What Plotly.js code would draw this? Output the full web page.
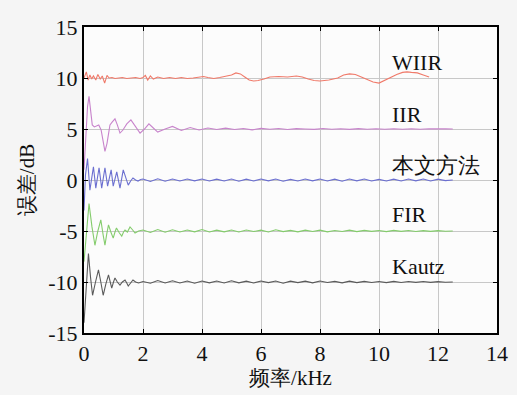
<!DOCTYPE html>
<html><head><meta charset="utf-8">
<script src="https://cdn.plot.ly/plotly-3.0.1.min.js"></script>
<style>html,body{margin:0;padding:0;background:#f5f5f5;}#chart{width:517px;height:395px;}</style>
</head><body><div id="chart"></div>
<script>
// ---- data ----
const seriesNames = ["WIIR", "IIR", "本文方法", "FIR", "Kautz"];

const wiirF = [0,0.08,0.14,0.2,0.26,0.32,0.4,0.47,0.55,0.62,0.7,0.78,0.85,0.95,1.05,1.15,1.3,1.45,1.6,1.75,1.9,2.0,2.08,2.16,2.25,2.35,2.5,2.7,2.9,3.1,3.3,3.5,3.7,3.9,4.05,4.2,4.4,4.6,4.8,5.0,5.15,5.3,5.45,5.6,5.75,5.9,6.1,6.3,6.6,6.9,7.2,7.4,7.6,7.8,8.0,8.3,8.6,8.8,9.0,9.2,9.4,9.6,9.8,10.0,10.2,10.4,10.6,10.8,10.95,11.1,11.3,11.5,11.7];
const wiirV = [10.0,10.6,9.8,10.3,9.9,10.2,9.8,10.35,9.9,10.2,9.5,10.25,10.0,10.05,9.95,10.0,10.05,9.95,10.0,10.05,9.95,10.05,10.25,9.8,10.2,9.9,10.1,9.95,10.05,9.95,10.05,9.95,10.0,10.05,10.15,10.05,9.95,10.05,10.15,10.3,10.5,10.4,10.1,9.8,9.7,9.75,9.9,10.1,10.15,10.1,10.2,10.1,9.9,9.75,9.7,9.8,10.0,10.3,10.4,10.35,10.1,9.85,9.6,9.5,9.8,10.1,10.35,10.55,10.6,10.55,10.5,10.3,10.1];

const iirF = [0,0.06,0.12,0.17,0.22,0.28,0.35,0.42,0.5,0.58,0.65,0.71,0.78,0.88,0.96,1.05,1.13,1.22,1.32,1.45,1.59,1.72,1.9,2.05,2.2,2.35,2.5,2.75,3.0,3.3,3.6,3.9,4.2,4.5,4.8,5.1,5.4,5.7,6.0,6.3,6.6,6.9,7.2,7.5,7.8,8.1,8.4,8.7,9.0,9.3,9.6,9.9,10.2,10.5,10.8,11.1,11.4,11.7,12.0,12.25,12.5];
const iirV = [1.0,4.0,7.2,8.2,6.8,5.4,5.2,5.3,5.4,4.9,3.8,2.8,3.6,5.4,5.7,6.0,5.4,4.6,4.9,5.5,5.9,5.3,4.6,5.0,5.5,5.1,4.7,5.0,5.25,4.85,5.15,4.9,5.1,4.95,5.08,4.95,5.05,4.92,5.06,4.97,5.05,4.95,5.04,5.0,4.96,5.05,4.97,5.03,4.96,5.04,4.98,5.02,4.97,5.03,4.98,5.02,4.97,5.03,4.99,5.01,5.0];

const tailF = [2.25,2.5,2.75,3,3.25,3.5,3.75,4,4.25,4.5,4.75,5,5.25,5.5,5.75,6,6.25,6.5,6.75,7,7.25,7.5,7.75,8,8.25,8.5,8.75,9,9.25,9.5,9.75,10,10.25,10.5,10.75,11,11.25,11.5,11.75,12,12.25,12.5];

const oursF = [0,0.05,0.12,0.2,0.32,0.4,0.51,0.6,0.71,0.8,0.92,0.99,1.11,1.22,1.33,1.42,1.5,1.58,1.66,1.75,1.83,1.92,2.0];
const oursV = [-3.0,0.5,2.1,-1.0,1.3,-0.8,1.2,-0.8,1.2,-0.6,1.0,-0.6,0.8,-0.8,1.0,0.2,-0.5,-0.1,0.2,0.0,-0.1,0.05,0.1];
const oursTail = [-0.15,0.12,-0.12,0.1,-0.1,0.1,-0.08,0.1,-0.1,0.08,-0.1,0.1,-0.12,0.08,-0.1,0.1,-0.08,0.1,-0.12,0.06,-0.1,0.1,-0.08,0.1,-0.1,0.08,-0.12,0.1,-0.08,0.1,-0.1,0.06,-0.1,0.08,-0.1,0.1,-0.08,0.1,-0.1,0.08,-0.06,0.0];

const firF = [0,0.08,0.17,0.27,0.37,0.47,0.57,0.65,0.71,0.77,0.83,0.91,0.99,1.05,1.1,1.2,1.28,1.34,1.39,1.47,1.56,1.65,1.73,1.85,2.0];
const firV = [-8.0,-5.0,-2.3,-4.6,-6.4,-5.0,-3.9,-5.4,-6.4,-5.3,-4.4,-5.1,-5.7,-5.1,-4.7,-5.2,-5.5,-5.1,-4.9,-5.1,-4.6,-4.9,-5.2,-5.0,-4.9];
const firTail = [-5.15,-4.85,-5.12,-4.88,-5.1,-4.9,-5.08,-4.85,-5.1,-4.92,-5.08,-4.9,-5.1,-4.9,-5.05,-4.92,-5.1,-4.88,-5.06,-4.94,-5.08,-4.92,-5.05,-4.92,-5.08,-4.95,-5.05,-4.92,-5.06,-4.94,-5.04,-4.95,-5.06,-4.94,-5.04,-4.95,-5.05,-4.96,-5.04,-4.96,-5.02,-5.0];

const kautzF = [0,0.08,0.15,0.22,0.29,0.39,0.49,0.57,0.65,0.74,0.83,0.88,0.94,1.0,1.05,1.13,1.22,1.3,1.39,1.45,1.5,1.58,1.66,1.75,1.85,2.0];
const kautzV = [-14.0,-10.0,-7.2,-9.5,-11.3,-10.0,-8.8,-10.0,-11.3,-10.2,-9.3,-9.9,-10.6,-10.0,-9.6,-10.0,-10.3,-10.0,-9.8,-10.1,-10.4,-10.1,-9.8,-10.0,-10.1,-9.95];
const kautzTail = [-10.12,-9.85,-10.1,-9.88,-10.1,-9.9,-10.12,-9.9,-10.08,-9.9,-10.1,-9.88,-10.08,-9.92,-10.1,-9.9,-10.06,-9.9,-10.12,-9.92,-10.06,-9.92,-10.08,-9.9,-10.05,-9.94,-10.08,-9.92,-10.06,-9.94,-10.05,-9.95,-10.06,-9.94,-10.05,-9.95,-10.04,-9.95,-10.04,-9.96,-10.03,-10.0];

const labelY = [11.5, 6.4, 1.4, -3.4, -8.5];
const xTicks = [0,2,4,6,8,10,12,14];
const yTicks = [-15,-10,-5,0,5,10,15];

// ---- chart ----
const colors = ["#f07a6a", "#c884cc", "#6b6fd0", "#84cc6c", "#5a5a5a"];
const xs = [wiirF, iirF, oursF.concat(tailF), firF.concat(tailF), kautzF.concat(tailF)];
const ys = [wiirV, iirV, oursV.concat(oursTail), firV.concat(firTail), kautzV.concat(kautzTail)];

const traces = seriesNames.map((n, i) => ({
  x: xs[i], y: ys[i], type: "scatter", mode: "lines", name: n,
  line: {color: colors[i], width: 1.1}, showlegend: false
}));

const serif = "Liberation Serif";
const annotations = seriesNames.map((n, i) => ({
  x: 10.37, y: labelY[i], xref: "x", yref: "y", text: n, showarrow: false,
  xanchor: "left", yanchor: "middle", font: {family: serif, size: 22, color: "#111"}
}));

const axisCommon = {
  showline: true, linecolor: "#000", linewidth: 2, mirror: "ticks",
  ticks: "inside", ticklen: 4, tickcolor: "#000", tickwidth: 1,
  showgrid: true, gridcolor: "#c8c8c8", gridwidth: 1, zeroline: false,
  tickfont: {family: serif, size: 22, color: "#111"}
};

const layout = {
  width: 517, height: 395,
  margin: {l: 84, r: 20, t: 27, b: 62},
  paper_bgcolor: "#f5f5f5", plot_bgcolor: "#fcfcfc",
  xaxis: Object.assign({}, axisCommon, {
    range: [0, 14], tickvals: xTicks, ticktext: xTicks.map(String),
    title: {text: "频率/kHz", font: {family: serif, size: 21, color: "#111"}, standoff: 3}
  }),
  yaxis: Object.assign({}, axisCommon, {
    range: [-15, 15], tickvals: yTicks, ticktext: yTicks.map(String),
    title: {text: "误差/dB", font: {family: serif, size: 21, color: "#111"}, standoff: 8}
  }),
  annotations: annotations
};

Plotly.newPlot("chart", traces, layout, {displayModeBar: false, staticPlot: true});
</script>
</body></html>
